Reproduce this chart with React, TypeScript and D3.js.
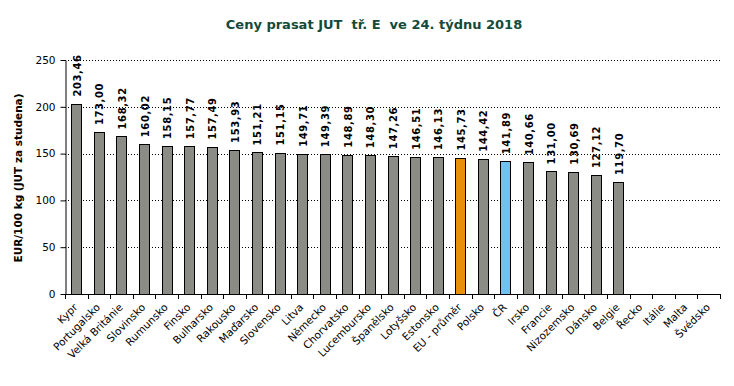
import React, { useEffect, useRef } from "react";
import * as d3 from "d3";

const countries = [
  "Kypr", "Portugalsko", "Velká Británie", "Slovinsko", "Rumunsko", "Finsko",
  "Bulharsko", "Rakousko", "Maďarsko", "Slovensko", "Litva", "Německo",
  "Chorvatsko", "Lucembursko", "Španělsko", "Lotyšsko", "Estonsko",
  "EU - průměr", "Polsko", "ČR", "Irsko", "Francie", "Nizozemsko", "Dánsko",
  "Belgie", "Řecko", "Itálie", "Malta", "Švédsko",
];

const prices: (number | null)[] = [
  203.46, 173.0, 168.32, 160.02, 158.15, 157.77, 157.49, 153.93, 151.21,
  151.15, 149.71, 149.39, 148.89, 148.3, 147.26, 146.51, 146.13, 145.73,
  144.42, 141.89, 140.66, 131.0, 130.69, 127.12, 119.7, null, null, null, null,
];

const yTicks = [0, 50, 100, 150, 200, 250];

const barColor = (name: string) =>
  name === "EU - průměr" ? "#e8900c" : name === "ČR" ? "#6cc4ec" : "#8c8c86";

const App: React.FC = () => {
  const svgRef = useRef<SVGSVGElement | null>(null);

  useEffect(() => {
    const width = 734;
    const marginLeft = 65;
    const marginRight = 14;
    const marginTop = 60;
    const plotBottom = 294;

    const svg = d3.select(svgRef.current);
    svg.selectAll("*").remove();

    const x = d3
      .scaleBand<string>()
      .domain(countries)
      .range([marginLeft, width - marginRight])
      .paddingInner(0.56)
      .paddingOuter(0.28);

    const y = d3.scaleLinear().domain([0, 250]).range([plotBottom, marginTop]);

    // title
    svg
      .append("text")
      .attr("x", 374)
      .attr("y", 29)
      .attr("text-anchor", "middle")
      .attr("font-family", "DejaVu Sans")
      .attr("font-weight", "bold")
      .attr("font-size", 13)
      .attr("fill", "#134a3a")
      .style("white-space", "pre")
      .text("Ceny prasat JUT  tř. E  ve 24. týdnu 2018");

    // gridlines
    svg
      .append("g")
      .selectAll("line")
      .data(yTicks.filter((t) => t > 0))
      .join("line")
      .attr("x1", marginLeft)
      .attr("x2", width - marginRight)
      .attr("y1", (d) => Math.round(y(d)) + 0.5)
      .attr("y2", (d) => Math.round(y(d)) + 0.5)
      .attr("stroke", "#000")
      .attr("stroke-width", 1)
      .attr("stroke-dasharray", "1,2");

    // y axis
    const yAxis = svg
      .append("g")
      .attr("transform", `translate(${marginLeft + 0.5},0)`)
      .call(d3.axisLeft(y).tickValues(yTicks).tickSize(5).tickSizeOuter(0).tickFormat(d3.format("d")));
    yAxis.select(".domain").attr("stroke", "#000");
    yAxis.selectAll(".tick line").attr("stroke", "#000");
    yAxis
      .selectAll(".tick text")
      .attr("font-family", "DejaVu Sans")
      .attr("font-size", 10.5)
      .attr("fill", "#000")
      .attr("x", -10);

    // y label
    svg
      .append("text")
      .attr("transform", `translate(22,${(marginTop + plotBottom) / 2 + 1}) rotate(-90)`)
      .attr("text-anchor", "middle")
      .attr("font-family", "DejaVu Sans")
      .attr("font-weight", "bold")
      .attr("font-size", 10.5)
      .attr("fill", "#000")
      .text("EUR/100 kg (JUT za studena)");

    // bars
    const data = countries.map((c, i) => ({ name: c, value: prices[i] }));
    const withVal = data.filter((d) => d.value !== null) as { name: string; value: number }[];

    svg
      .append("g")
      .selectAll("rect")
      .data(withVal)
      .join("rect")
      .attr("x", (d) => Math.round(x(d.name)!) + 0.5)
      .attr("y", (d) => Math.round(y(d.value)) + 0.5)
      .attr("width", Math.round(x.bandwidth()))
      .attr("height", (d) => plotBottom - Math.round(y(d.value)))
      .attr("fill", (d) => barColor(d.name))
      .attr("stroke", "#000")
      .attr("stroke-width", 1);

    // value labels
    svg
      .append("g")
      .selectAll("text")
      .data(withVal)
      .join("text")
      .attr(
        "transform",
        (d) => `translate(${x(d.name)! + x.bandwidth() / 2 + 4.5},${y(d.value) - 7}) rotate(-90)`
      )
      .attr("text-anchor", "start")
      .attr("font-family", "DejaVu Sans")
      .attr("font-weight", "bold")
      .attr("font-size", 10)
      .attr("letter-spacing", 0.6)
      .attr("fill", "#000")
      .text((d) => d3.format(".2f")(d.value).replace(".", ","));

    // x axis
    const step = x.step();
    const bounds = d3.range(countries.length + 1).map((i) => marginLeft + i * step);
    svg
      .append("line")
      .attr("x1", marginLeft)
      .attr("x2", width - marginRight)
      .attr("y1", plotBottom + 0.5)
      .attr("y2", plotBottom + 0.5)
      .attr("stroke", "#000");
    svg
      .append("g")
      .selectAll("line")
      .data(bounds)
      .join("line")
      .attr("x1", (d) => Math.round(d) + 0.5)
      .attr("x2", (d) => Math.round(d) + 0.5)
      .attr("y1", plotBottom)
      .attr("y2", plotBottom + 5)
      .attr("stroke", "#000");

    svg
      .append("g")
      .selectAll("text")
      .data(countries)
      .join("text")
      .attr(
        "transform",
        (d) => `translate(${x(d)! + x.bandwidth() / 2 + 2},${plotBottom + 14}) rotate(-45)`
      )
      .attr("text-anchor", "end")
      .attr("font-family", "DejaVu Sans")
      .attr("font-size", 10.5)
      .attr("fill", "#000")
      .text((d) => d);
  }, []);

  return (
    <svg
      ref={svgRef}
      width={734}
      height={386}
      style={{ position: "absolute", left: 0, top: 0, background: "#fff" }}
    />
  );
};

export default App;
